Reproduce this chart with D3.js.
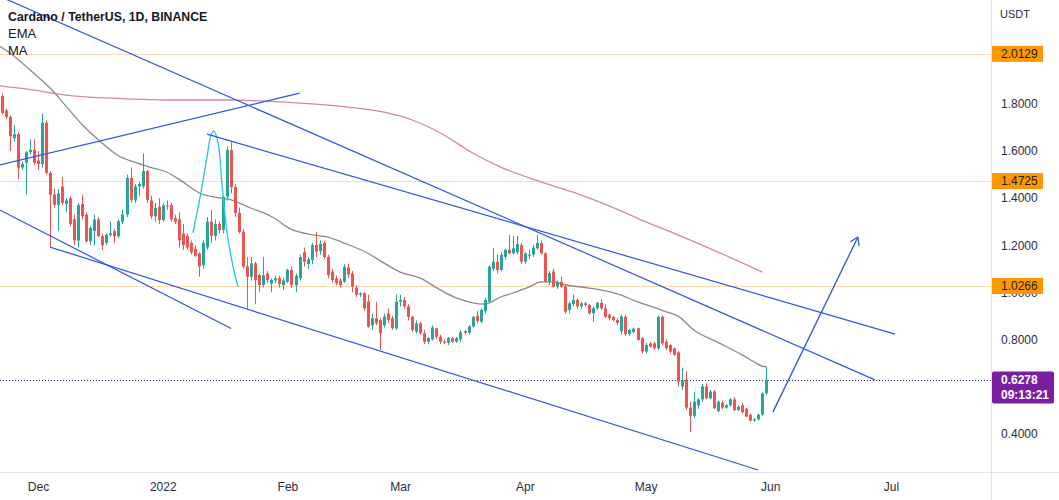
<!DOCTYPE html>
<html><head><meta charset="utf-8">
<script src="https://cdn.jsdelivr.net/npm/d3@7"></script>
<style>
body{margin:0;background:#fff;}
svg{display:block;}
text{font-family:"Liberation Sans",Arial,sans-serif;}
</style>
</head><body>
<svg id="chart" width="1059" height="500"></svg>
<script>
// ---------- DATA ----------
const candleStart = "2021-11-22";
const opens = [1.834,1.772,1.745,1.655,1.672,1.530,1.550,1.595,1.605,1.560,1.545,1.720,1.507,1.415,1.372,1.450,1.375,1.400,1.310,1.220,1.375,1.330,1.217,1.260,1.310,1.238,1.210,1.243,1.260,1.238,1.300,1.330,1.486,1.390,1.450,1.450,1.515,1.390,1.323,1.364,1.307,1.370,1.370,1.315,1.310,1.250,1.240,1.210,1.185,1.165,1.115,1.190,1.300,1.240,1.290,1.265,1.406,1.605,1.447,1.337,1.257,1.110,1.066,1.123,1.073,1.031,1.080,1.038,1.050,1.060,1.030,1.045,1.095,1.030,1.060,1.170,1.120,1.137,1.201,1.175,1.210,1.150,1.088,1.059,1.050,1.045,1.105,1.080,1.020,0.990,0.996,0.960,0.860,0.890,0.882,0.860,0.910,0.890,0.847,0.960,0.967,0.940,0.896,0.833,0.868,0.826,0.790,0.800,0.847,0.811,0.790,0.785,0.805,0.790,0.800,0.835,0.828,0.855,0.900,0.875,0.920,0.960,1.100,1.130,1.095,1.151,1.180,1.166,1.170,1.200,1.130,1.155,1.160,1.187,1.208,1.166,1.045,1.088,1.024,1.045,1.024,0.925,0.950,0.967,0.940,0.953,0.946,0.911,0.932,0.955,0.932,0.905,0.895,0.882,0.835,0.896,0.822,0.832,0.847,0.805,0.748,0.783,0.783,0.762,0.896,0.790,0.776,0.762,0.745,0.600,0.630,0.510,0.475,0.520,0.545,0.600,0.550,0.578,0.495,0.530,0.510,0.520,0.545,0.500,0.520,0.505,0.480,0.455,0.460,0.480,0.571];
const highs = [1.845,1.780,1.752,1.710,1.680,1.555,1.600,1.650,1.650,1.600,1.760,1.730,1.515,1.440,1.440,1.490,1.400,1.410,1.330,1.380,1.415,1.340,1.280,1.330,1.320,1.250,1.250,1.300,1.270,1.310,1.350,1.500,1.530,1.460,1.470,1.590,1.520,1.410,1.380,1.400,1.380,1.390,1.380,1.330,1.340,1.290,1.250,1.220,1.200,1.170,1.220,1.320,1.350,1.310,1.300,1.410,1.620,1.640,1.460,1.360,1.270,1.150,1.150,1.130,1.080,1.150,1.090,1.060,1.070,1.070,1.060,1.100,1.110,1.080,1.160,1.190,1.150,1.210,1.257,1.220,1.220,1.160,1.100,1.070,1.060,1.120,1.120,1.090,1.030,1.000,1.000,0.990,0.910,0.960,0.890,0.910,0.930,0.900,0.990,0.990,0.980,0.950,0.900,0.880,0.875,0.840,0.810,0.860,0.850,0.820,0.800,0.810,0.810,0.810,0.840,0.840,0.860,0.900,0.920,0.930,0.975,1.115,1.187,1.160,1.170,1.185,1.244,1.240,1.240,1.210,1.170,1.180,1.200,1.244,1.220,1.170,1.090,1.100,1.050,1.066,1.030,0.960,0.990,0.975,0.960,0.960,0.950,0.940,0.960,0.970,0.950,0.910,0.900,0.890,0.905,0.905,0.845,0.850,0.850,0.810,0.785,0.790,0.790,0.900,0.903,0.800,0.780,0.765,0.750,0.680,0.665,0.535,0.575,0.550,0.610,0.613,0.585,0.585,0.540,0.540,0.525,0.550,0.555,0.520,0.530,0.510,0.485,0.465,0.485,0.575,0.684];
const lows = [1.755,1.735,1.600,1.640,1.480,1.520,1.415,1.585,1.540,1.520,1.530,1.500,1.190,1.360,1.260,1.370,1.340,1.280,1.200,1.190,1.310,1.210,1.200,1.200,1.235,1.180,1.200,1.235,1.210,1.230,1.290,1.320,1.380,1.380,1.410,1.440,1.380,1.310,1.300,1.290,1.300,1.350,1.300,1.290,1.190,1.180,1.180,1.160,1.150,1.066,1.100,1.180,1.210,1.220,1.250,1.250,1.390,1.420,1.320,1.250,1.100,0.930,1.050,0.950,1.000,1.020,1.040,1.000,1.040,1.020,1.010,1.040,1.020,1.000,1.050,1.110,1.100,1.120,1.150,1.160,1.140,1.060,1.040,1.030,1.020,1.040,1.060,1.000,0.980,0.980,0.920,0.850,0.840,0.860,0.755,0.850,0.870,0.840,0.840,0.940,0.930,0.880,0.830,0.825,0.820,0.780,0.780,0.795,0.800,0.780,0.780,0.775,0.785,0.785,0.790,0.820,0.820,0.850,0.870,0.870,0.910,0.955,1.090,1.080,1.090,1.140,1.160,1.160,1.160,1.120,1.120,1.140,1.150,1.180,1.160,1.040,1.030,1.020,1.015,1.020,0.910,0.910,0.940,0.930,0.930,0.940,0.905,0.875,0.925,0.925,0.890,0.880,0.875,0.860,0.820,0.815,0.815,0.825,0.795,0.740,0.740,0.765,0.755,0.755,0.775,0.755,0.740,0.730,0.600,0.585,0.500,0.405,0.465,0.505,0.535,0.545,0.545,0.505,0.490,0.505,0.505,0.515,0.495,0.495,0.485,0.470,0.450,0.450,0.455,0.475,0.565];
const closes = [1.762,1.745,1.663,1.672,1.530,1.545,1.595,1.605,1.550,1.545,1.720,1.507,1.415,1.372,1.420,1.380,1.390,1.290,1.220,1.370,1.323,1.217,1.273,1.309,1.238,1.200,1.245,1.250,1.238,1.302,1.330,1.486,1.393,1.450,1.460,1.515,1.393,1.323,1.358,1.307,1.370,1.365,1.310,1.300,1.220,1.200,1.190,1.170,1.155,1.110,1.210,1.300,1.240,1.290,1.265,1.406,1.605,1.447,1.337,1.257,1.109,1.066,1.123,1.052,1.031,1.073,1.052,1.052,1.060,1.035,1.050,1.095,1.030,1.070,1.150,1.130,1.140,1.201,1.173,1.205,1.150,1.073,1.052,1.038,1.031,1.109,1.075,1.024,0.990,0.996,0.932,0.854,0.890,0.868,0.826,0.896,0.882,0.847,0.960,0.967,0.940,0.896,0.840,0.868,0.826,0.790,0.805,0.850,0.811,0.790,0.785,0.805,0.790,0.805,0.830,0.828,0.855,0.895,0.878,0.925,0.967,1.109,1.130,1.095,1.159,1.180,1.166,1.187,1.205,1.130,1.165,1.160,1.190,1.210,1.166,1.045,1.081,1.024,1.045,1.024,0.918,0.953,0.967,0.940,0.953,0.946,0.911,0.932,0.955,0.932,0.896,0.890,0.882,0.870,0.897,0.822,0.840,0.845,0.797,0.748,0.776,0.769,0.762,0.896,0.783,0.762,0.748,0.734,0.620,0.625,0.510,0.475,0.535,0.545,0.600,0.550,0.578,0.507,0.535,0.510,0.520,0.545,0.500,0.514,0.490,0.472,0.455,0.460,0.480,0.571,0.6278];

const emaDates = ["2021-11-21","2021-11-24","2021-11-30","2021-12-04","2021-12-08","2021-12-12","2021-12-16","2021-12-21","2021-12-25","2021-12-29","2022-01-02","2022-01-06","2022-01-10","2022-01-15","2022-01-18","2022-01-23","2022-01-28","2022-02-02","2022-02-07","2022-02-11","2022-02-16","2022-02-21","2022-02-25","2022-03-01","2022-03-06","2022-03-11","2022-03-15","2022-03-19","2022-03-22","2022-03-26","2022-03-29","2022-04-02","2022-04-05","2022-04-08","2022-04-11","2022-04-17","2022-04-21","2022-04-25","2022-04-29","2022-05-03","2022-05-06","2022-05-09","2022-05-13","2022-05-19","2022-05-25","2022-05-28","2022-05-30","2022-05-31"];
const emaValues = [2.050,2.017,1.930,1.868,1.790,1.712,1.648,1.580,1.553,1.531,1.511,1.469,1.423,1.401,1.393,1.357,1.322,1.267,1.245,1.234,1.203,1.166,1.124,1.086,1.060,1.010,0.976,0.955,0.950,0.980,0.997,1.022,1.044,1.044,1.032,1.018,1.006,0.988,0.959,0.937,0.918,0.900,0.840,0.787,0.734,0.704,0.686,0.683];

const maDates = ["2021-11-21","2021-11-30","2021-12-08","2021-12-16","2021-12-25","2022-01-02","2022-01-10","2022-01-18","2022-01-25","2022-02-04","2022-02-16","2022-02-25","2022-03-04","2022-03-11","2022-03-19","2022-03-26","2022-04-05","2022-04-15","2022-04-23","2022-04-30","2022-05-09","2022-05-19","2022-05-30"];
const maValues = [1.878,1.859,1.838,1.827,1.821,1.817,1.817,1.817,1.813,1.804,1.787,1.765,1.732,1.677,1.592,1.532,1.469,1.413,1.360,1.307,1.244,1.171,1.086];

const curveDates = ["2022-01-08T12:00","2022-01-10T07:00","2022-01-12T00:00","2022-01-13T00:00","2022-01-13T17:00","2022-01-14T17:00","2022-01-15T17:00","2022-01-17T00:00","2022-01-18T12:00","2022-01-19T17:00"];
const curvePrices = [1.252,1.405,1.575,1.668,1.685,1.639,1.464,1.252,1.108,1.023];

const trendStarts = [["2021-11-23T00:00",2.246],["2022-01-12T00:00",1.672],["2021-11-21T00:00",1.539],["2021-11-21T00:00",1.354],["2021-12-04T00:00",1.192]];
const trendEnds   = [["2022-06-27T00:00",0.628],["2022-07-02T00:00",0.8225],["2022-02-04T00:00",1.846],["2022-01-18T00:00",0.846],["2022-05-29T00:00",0.245]];
const arrowFrom = ["2022-06-01T16:00",0.492];
const arrowTo   = ["2022-06-22T19:00",1.235];

const levelPrices = [2.0129, 1.4725, 1.0266];
const levelLabels = ["2.0129","1.4725","1.0266"];
const lastPrice = 0.6278;
const lastLabel = "0.6278";
const countdown = "09:13:21";

const priceTicks = [0.4,0.8,1.0,1.2,1.4,1.6,1.8];
const timeTickDates = ["2021-12-01","2022-01-01","2022-02-01","2022-03-01","2022-04-01","2022-05-01","2022-06-01","2022-07-01"];
const timeTickLabels = ["Dec","2022","Feb","Mar","Apr","May","Jun","Jul"];

// ---------- SETUP ----------
const W = 1059, H = 500, plotR = 991, plotB = 472;
const pDay = d3.utcParse("%Y-%m-%d");
const pDT = d3.utcParse("%Y-%m-%dT%H:%M");
const parse = s => s.length > 10 ? pDT(s) : pDay(s);

const x = d3.scaleUtc().domain([pDay("2021-12-01"), pDay("2022-07-01")]).range([38, 891]);
const y = d3.scaleLinear().domain([0.4, 1.8]).range([433.5, 104]);

const start = pDay(candleStart);
const candles = opens.map((o, i) => ({
  date: d3.utcDay.offset(start, i), o, h: highs[i], l: lows[i], c: closes[i]
}));

const svg = d3.select("#chart");
svg.append("rect").attr("width", W).attr("height", H).attr("fill", "#fff");
svg.append("defs").append("clipPath").attr("id", "plot")
  .append("rect").attr("x", 0).attr("y", 0).attr("width", plotR).attr("height", plotB);

const plot = svg.append("g").attr("clip-path", "url(#plot)");

// horizontal level lines
plot.selectAll("line.level").data(levelPrices).join("line")
  .attr("x1", 0).attr("x2", plotR)
  .attr("y1", d => Math.round(y(d)) + 0.5).attr("y2", d => Math.round(y(d)) + 0.5)
  .attr("stroke", "#fcd9b0").attr("stroke-width", 1);

// last price dotted line
plot.append("line").attr("x1", 0).attr("x2", plotR)
  .attr("y1", Math.round(y(lastPrice)) + 0.5).attr("y2", Math.round(y(lastPrice)) + 0.5)
  .attr("stroke", "#4a2a6a").attr("stroke-width", 1).attr("stroke-dasharray", "1 2");

// MA line
const lineGen = d3.line().x(d => x(d[0])).y(d => y(d[1])).curve(d3.curveMonotoneX);
plot.append("path")
  .datum(maDates.map((d, i) => [parse(d), maValues[i]]))
  .attr("d", lineGen).attr("fill", "none").attr("stroke", "#d08aa0").attr("stroke-width", 1.3);

// EMA line
plot.append("path")
  .datum(emaDates.map((d, i) => [parse(d), emaValues[i]]))
  .attr("d", lineGen).attr("fill", "none").attr("stroke", "#8a8a8a").attr("stroke-width", 1.3);

// candles
const cg = plot.append("g");
const up = "#26a69a", dn = "#ef5350";
cg.selectAll("line.wick").data(candles).join("line")
  .attr("x1", d => Math.round(x(d.date)) + 0.5).attr("x2", d => Math.round(x(d.date)) + 0.5)
  .attr("y1", d => y(d.h)).attr("y2", d => y(d.l))
  .attr("stroke", d => d.c >= d.o ? up : dn).attr("stroke-width", 1);
cg.selectAll("rect.body").data(candles).join("rect")
  .attr("x", d => Math.round(x(d.date)) - 1)
  .attr("width", 3)
  .attr("y", d => y(Math.max(d.o, d.c)))
  .attr("height", d => Math.max(1, Math.abs(y(d.o) - y(d.c))))
  .attr("fill", d => d.c >= d.o ? up : dn);

// cyan curve drawing
plot.append("path")
  .datum(curveDates.map((d, i) => [parse(d), curvePrices[i]]))
  .attr("d", d3.line().x(d => x(d[0])).y(d => y(d[1])).curve(d3.curveCatmullRom))
  .attr("fill", "none").attr("stroke", "#26c6da").attr("stroke-width", 1.3);

// trend lines
const blue = "#2f55e4";
trendStarts.forEach((s, i) => {
  const e = trendEnds[i];
  plot.append("line")
    .attr("x1", x(parse(s[0]))).attr("y1", y(s[1]))
    .attr("x2", x(parse(e[0]))).attr("y2", y(e[1]))
    .attr("stroke", blue).attr("stroke-width", 1.2);
});

// arrow
const ax1 = x(parse(arrowFrom[0])), ay1 = y(arrowFrom[1]);
const ax2 = x(parse(arrowTo[0])), ay2 = y(arrowTo[1]);
plot.append("line").attr("x1", ax1).attr("y1", ay1).attr("x2", ax2).attr("y2", ay2)
  .attr("stroke", blue).attr("stroke-width", 1.3);
const ang = Math.atan2(ay2 - ay1, ax2 - ax1);
[ang + Math.PI * 0.82, ang - Math.PI * 0.82].forEach(a => {
  plot.append("line").attr("x1", ax2).attr("y1", ay2)
    .attr("x2", ax2 + 9 * Math.cos(a)).attr("y2", ay2 + 9 * Math.sin(a))
    .attr("stroke", blue).attr("stroke-width", 1.3);
});

// ---------- AXES ----------
const gridColor = "#e0e3eb";
svg.append("line").attr("x1", plotR + 0.5).attr("x2", plotR + 0.5).attr("y1", 0).attr("y2", H)
  .attr("stroke", gridColor);
svg.append("line").attr("x1", 0).attr("x2", W).attr("y1", plotB + 0.5).attr("y2", plotB + 0.5)
  .attr("stroke", gridColor);

const yAxis = svg.append("g").attr("transform", `translate(${plotR},0)`)
  .call(d3.axisRight(y).tickValues(priceTicks).tickFormat(d3.format(".4f")).tickSize(0).tickPadding(10));
yAxis.select(".domain").remove();
yAxis.selectAll("text").attr("fill", "#2a2e39").attr("font-size", 12)
  .attr("font-family", "'Liberation Sans',Arial,sans-serif");

const xAxis = svg.append("g").attr("transform", `translate(0,${plotB})`)
  .call(d3.axisBottom(x).tickValues(timeTickDates.map(pDay))
    .tickFormat((d, i) => timeTickLabels[i]).tickSize(0).tickPadding(10));
xAxis.select(".domain").remove();
xAxis.selectAll("text").attr("fill", "#2a2e39").attr("font-size", 12)
  .attr("font-family", "'Liberation Sans',Arial,sans-serif");

svg.append("text").attr("x", 1000).attr("y", 18).text("USDT")
  .attr("font-size", 11).attr("fill", "#2a2e39");

// level labels
levelPrices.forEach((p, i) => {
  const yy = y(p);
  svg.append("rect").attr("x", plotR + 1).attr("y", yy - 8).attr("width", 51).attr("height", 16)
    .attr("fill", "#ff9800");
  svg.append("text").attr("x", plotR + 10).attr("y", yy + 4.3).text(levelLabels[i])
    .attr("font-size", 12).attr("fill", "#1b1b1b");
});

// last price label
const ly = y(lastPrice);
svg.append("rect").attr("x", plotR + 1).attr("y", ly - 8.5).attr("width", 62).attr("height", 32)
  .attr("rx", 2).attr("fill", "#7b1fa2");
svg.append("text").attr("x", plotR + 10).attr("y", ly + 4.3).text(lastLabel)
  .attr("font-size", 12).attr("font-weight", "bold").attr("fill", "#fff");
svg.append("text").attr("x", plotR + 10).attr("y", ly + 19.5).text(countdown)
  .attr("font-size", 12).attr("font-weight", "bold").attr("fill", "#fff");

// legend
svg.append("text").attr("x", 8).attr("y", 20.5).text("Cardano / TetherUS, 1D, BINANCE")
  .attr("font-size", 12.3).attr("font-weight", "bold").attr("fill", "#131722");
svg.append("text").attr("x", 8).attr("y", 37.5).text("EMA")
  .attr("font-size", 13).attr("fill", "#131722");
svg.append("text").attr("x", 8).attr("y", 54.5).text("MA")
  .attr("font-size", 13).attr("fill", "#131722");
</script>
</body></html>
